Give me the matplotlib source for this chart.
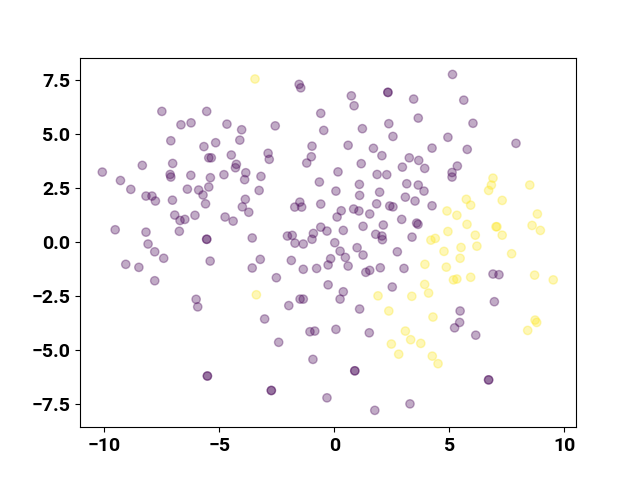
import matplotlib
matplotlib.use("Agg")
import matplotlib.pyplot as plt
import numpy as np

# class 0 (purple) points; darker spots are repeated points
x0 = [-7.50, -6.67, -6.23, -7.11, -5.55, -5.67, -8.35, -7.03, -10.09, -9.30,
      -7.14, -7.11, -6.24, -1.53, -1.46, -4.67, -4.03, -2.57, -0.59, -0.46,
      -4.11, -5.16, -0.97, -4.48, -2.88, -2.83, -5.46, -5.35, -1.00, -1.20,
      -4.26, -4.30, -3.85, -3.90, -5.39, -4.80, -3.19, -0.65, 5.14, 2.33,
      2.33, 0.74, 0.86, 3.45, 3.65, 2.37, 1.22, 2.55, 4.94, 0.60,
      1.70, 2.07, 4.25, 3.26, 3.67, 3.93, 1.17, 2.96, 0.16, 1.86,
      2.28, 5.12, 5.12, 3.15, 1.09, 3.65, 5.63, 6.03, 7.90, 5.78,
      5.35, -8.85, -8.19, -7.93, -7.78, -7.04, -6.39, -5.90, -5.46, -5.71,
      -5.60, -6.94, -6.71, -6.50, -6.06, -6.74, -9.53, -8.19, -8.10, -7.81,
      -7.42, -9.07, -8.50, -7.81, -5.55, -5.55, -6.01, -5.94, -3.27, -3.87,
      -4.00, -3.72, -4.75, -4.40, -1.50, -1.72, -1.42, -0.59, -3.57, -2.04,
      -1.83, -1.71, -1.35, -0.91, -0.97, -0.59, -0.32, -5.40, -3.22, -3.57,
      -1.87, -1.35, -0.77, -0.27, -0.27, -2.52, -1.49, -1.35, -1.98, 0.07,
      1.10, 1.97, 3.09, 3.51, 3.90, 4.25, 1.84, 2.41, 2.55, 0.84,
      1.07, 0.30, 1.54, 0.12, 2.93, 3.58, 3.64, 2.13, 1.25, 0.39,
      1.80, 2.07, 2.09, 3.38, 0.02, 0.25, 0.99, 1.25, 0.48, -0.16,
      0.60, 2.74, 2.00, 1.37, 1.54, 3.03, 2.52, 0.39, 0.25, 1.10,
      6.90, 7.16, 6.96, -5.52, -5.52, -3.03, -1.06, -0.85, -2.42, -0.93,
      -2.74, -2.74, -0.32, 0.07, 1.52, 5.47, 5.45, 5.23, 6.15, 0.89,
      0.89, 1.76, 3.29, 6.71, 6.71]
y0 = [6.05, 5.43, 5.52, 4.69, 6.05, 4.42, 3.55, 3.64, 3.24, 2.85,
      3.13, 3.01, 3.09, 7.30, 7.14, 5.46, 5.20, 5.38, 5.96, 5.17,
      4.72, 4.60, 4.44, 4.03, 4.11, 3.83, 3.90, 3.90, 3.95, 3.66,
      3.60, 3.44, 3.21, 2.89, 2.98, 3.12, 3.04, 2.78, 7.76, 6.93,
      6.93, 6.77, 6.31, 6.62, 5.74, 5.48, 5.25, 4.89, 4.85, 4.48,
      4.34, 4.00, 4.35, 3.90, 3.78, 3.41, 3.63, 3.47, 3.25, 3.13,
      3.12, 3.22, 3.01, 2.70, 2.67, 2.64, 6.57, 5.50, 4.57, 4.29,
      3.52, 2.44, 2.13, 2.13, 1.90, 1.94, 2.45, 2.41, 2.55, 2.18,
      1.77, 1.25, 1.00, 1.05, 1.24, 0.50, 0.57, 0.46, -0.09, -0.45,
      -0.75, -1.03, -1.17, -1.79, 0.13, 0.13, -2.65, -3.00, 2.39, 1.98,
      1.63, 1.38, 1.16, 0.97, 1.85, 1.62, 1.62, 1.76, 0.19, 0.28,
      0.31, -0.05, -0.09, 0.40, 0.13, 0.69, 0.51, -0.88, -0.80, -1.20,
      -0.85, -1.26, -1.22, -1.06, -1.98, -1.65, -2.64, -2.64, -2.94, 2.36,
      2.16, 2.31, 2.08, 1.90, 2.36, 1.68, 1.77, 1.67, 1.63, 1.53,
      1.44, 1.45, 1.30, 1.16, 1.05, 0.88, 0.82, 0.79, 0.73, 0.54,
      0.36, 0.28, 0.11, 0.23, -0.03, -0.42, -0.26, -0.60, -0.71, -0.77,
      -1.11, -0.45, -1.19, -1.40, -1.31, -1.22, -2.08, -2.30, -2.64, -3.10,
      -1.48, -1.51, -2.76, -6.20, -6.20, -3.56, -4.15, -4.12, -4.64, -5.43,
      -6.87, -6.87, -7.21, -4.04, -4.20, -3.19, -3.72, -3.97, -4.31, -5.96,
      -5.96, -7.79, -7.49, -6.38, -6.38]

# class 1 (yellow) points
x1 = [-3.45, 6.90, 6.83, 6.71, 8.50, -3.39, 4.20, 4.39, 4.90, 4.94,
      4.77, 3.94, 4.87, 5.18, 5.33, 3.93, 4.10, 1.90, 3.37, 5.74,
      5.93, 7.30, 5.33, 5.77, 7.03, 7.07, 8.83, 8.60, 8.96, 7.30,
      6.13, 5.51, 6.20, 7.71, 5.47, 8.71, 9.52, 5.93, 2.37, 4.29,
      3.09, 3.32, 3.76, 2.48, 2.80, 4.26, 4.51, 8.73, 8.80, 8.41]
y1 = [7.55, 2.96, 2.64, 2.39, 2.64, -2.44, 0.09, 0.17, 1.44, 0.49,
      -0.43, -1.03, -1.16, -1.75, -1.71, -1.96, -2.36, -2.49, -2.51, 1.98,
      1.71, 1.93, 1.24, 0.82, 0.71, 0.71, 1.30, 0.77, 0.54, 0.32,
      0.32, -0.25, -0.19, -0.54, -0.75, -1.53, -1.75, -1.63, -3.19, -3.47,
      -4.12, -4.52, -4.69, -4.72, -5.19, -5.28, -5.63, -3.61, -3.72, -4.09]

xs = np.array(x0 + x1)
ys = np.array(y0 + y1)
labels = np.array([0] * len(x0) + [1] * len(x1))

plt.rcParams['font.family'] = ['Roboto', 'DejaVu Sans']

fig, ax = plt.subplots(figsize=(6.4, 4.8), dpi=100)
ax.scatter(xs, ys, c=labels, cmap='viridis', alpha=0.33)
ax.set_xlim(-11.06, 10.51)
ax.set_ylim(-8.57, 8.54)
ax.set_xticks([-10, -5, 0, 5, 10])
ax.set_yticks([-7.5, -5.0, -2.5, 0.0, 2.5, 5.0, 7.5])
for lab in ax.get_xticklabels() + ax.get_yticklabels():
    lab.set_fontsize(14)
    lab.set_fontweight('bold')

fig.savefig('out.png')
